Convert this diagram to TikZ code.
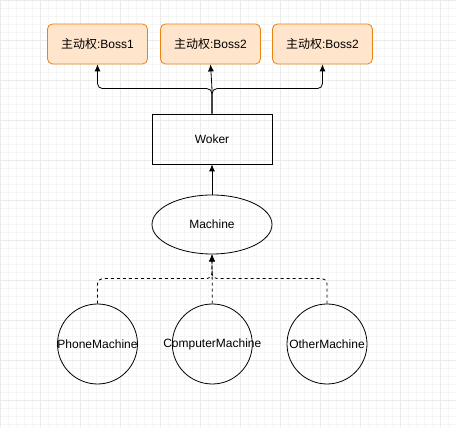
\documentclass[tikz,border=0pt]{standalone}
\usepackage{fontspec}
\setmainfont{Liberation Sans}
\newfontfamily\cjk{Noto Sans CJK SC}
\usetikzlibrary{arrows.meta,shapes.geometric}
\begin{document}
\begin{tikzpicture}
	[x=1pt,y=-1pt,
	every node/.style={font=\fontsize{12}{14}\selectfont},
	boss/.style={draw=orange!70!brown,fill=orange!20,rounded corners=5pt,
		minimum width=100pt,minimum height=40pt,line width=0.8pt},
	worker/.style={draw,minimum width=120pt,minimum height=50pt,line width=0.8pt},
	machine/.style={draw,ellipse,minimum width=120pt,minimum height=59pt,line width=0.8pt},
	kind/.style={draw,circle,minimum size=80pt,inner sep=0pt,line width=0.8pt},
	arr/.style={-{Latex[length=7pt,width=6pt]},line width=0.8pt,rounded corners=5pt}]
	\useasboundingbox (0,0) rectangle (456,427);
	% grid
	\draw[black!4,line width=0.5pt] (1,-1) grid[step=8pt] (456,427);
	\draw[black!8,line width=0.5pt] (-7,-25) grid[step=40pt] (456,427);
	% nodes
	\node[boss] (b1) at (97.5,44) {{\cjk 主动权}:Boss1};
	\node[boss] (b2) at (210.5,44) {{\cjk 主动权}:Boss2};
	\node[boss] (b3) at (322.5,44) {{\cjk 主动权}:Boss2};
	\node[worker] (w) at (212,139) {Woker};
	\node[machine] (m) at (212,224.5) {Machine};
	\node[kind] (p) at (97.5,344) {\makebox[0pt]{PhoneMachine}};
	\node[kind] (c) at (212.3,344) {\makebox[0pt]{ComputerMachine}};
	\node[kind] (o) at (327,344) {\makebox[0pt]{OtherMachine}};
	% edges
	\draw[arr] (w.north) -- ++(0,-25) -| (b1.south);
	\draw[arr] (w.north) -- ++(0,-25) -- (b2.south);
	\draw[arr] (w.north) -- ++(0,-25) -| (b3.south);
	\draw[arr] (m.north) -- (w.south);
	\draw[arr,dashed] (p.north) -- ++(0,-25) -| (m.south);
	\draw[arr,dashed] (c.north) -- (m.south);
	\draw[arr,dashed] (o.north) -- ++(0,-25) -| (m.south);
\end{tikzpicture}
\end{document}
